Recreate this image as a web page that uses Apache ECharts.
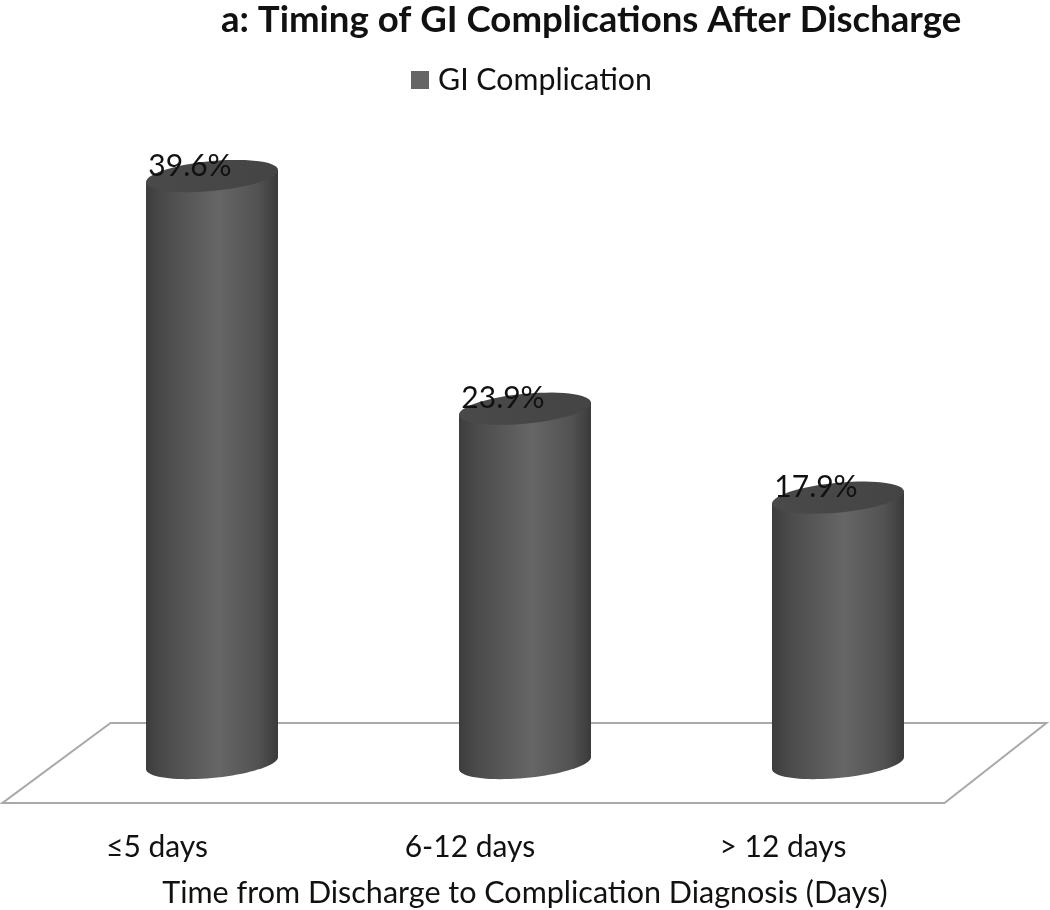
<!DOCTYPE html>
<html>
<head>
<meta charset="utf-8">
<style>html,body{margin:0;padding:0;background:#fff}#c{width:1050px;height:910px}</style>
<script src="https://cdn.jsdelivr.net/npm/echarts@6/dist/echarts.min.js"></script>
</head>
<body>
<div id="c"></div>
<script>
const categories = ['≤5 days', '6-12 days', '> 12 days'];
const complicationPct = [39.6, 23.9, 17.9];
const seriesName = 'GI Complication';
const titleText = 'a: Timing of GI Complications After Discharge';
const axisTitle = 'Time from Discharge to Complication Diagnosis (Days)';

const FONT = 'Lato, "Open Sans", sans-serif';
const chart = echarts.init(document.getElementById('c'), null, {renderer: 'canvas'});

function ellipsePoints(cx, cy, a, b, tilt, from, to, n) {
  const pts = [];
  for (let i = 0; i <= n; i++) {
    const t = from + (to - from) * i / n;
    pts.push([cx + a * Math.cos(t), cy + b * Math.sin(t) - tilt * Math.cos(t)]);
  }
  return pts;
}

function renderCylinder(params, api) {
  const idx = api.value(0);
  const val = api.value(1);
  const top = api.coord([idx, val]);
  const base = api.coord([idx, 0]);
  const a = 66, b = 15, tilt = 6;
  const cx = top[0];
  const body = ellipsePoints(cx, base[1], a, b, tilt, Math.PI, 0, 40)
    .concat([[cx + a, top[1] - tilt], [cx - a, top[1] + tilt]]);
  const cap = ellipsePoints(cx, top[1], a, b, tilt, 0, Math.PI * 2, 60);
  const bodyFill = new echarts.graphic.LinearGradient(0, 0, 1, 0, [
    {offset: 0, color: '#3d3d3d'},
    {offset: 0.14, color: '#4b4b4b'},
    {offset: 0.55, color: '#666666'},
    {offset: 0.85, color: '#525252'},
    {offset: 1, color: '#3a3a3a'}
  ]);
  const capFill = new echarts.graphic.LinearGradient(0, 0, 1, 1, [
    {offset: 0, color: '#4a4a4a'},
    {offset: 1, color: '#444444'}
  ]);
  return {
    type: 'group',
    children: [
      {type: 'polygon', shape: {points: body}, style: {fill: bodyFill}},
      {type: 'polygon', shape: {points: cap}, style: {fill: capFill}},
      {type: 'text', style: {
        text: val.toFixed(1) + '%', x: cx - 22, y: top[1] - 10,
        align: 'center', verticalAlign: 'middle',
        font: '30px ' + FONT, fill: '#111111'
      }}
    ]
  };
}

function renderFloor(params, api) {
  const cs = params.coordSys;
  const base = api.coord([0, 0])[1];
  const left = cs.x, right = cs.x + cs.width;
  return {
    type: 'polygon',
    shape: {points: [
      [left - 53, base + 40], [right - 50, base + 40],
      [right + 52, base - 40], [left + 55, base - 40]
    ]},
    style: {fill: '#ffffff', stroke: '#a9a9a9', lineWidth: 2}
  };
}

chart.setOption({
  animation: false,
  backgroundColor: '#ffffff',
  title: {
    text: titleText, left: 216, top: -3,
    textStyle: {fontFamily: FONT, fontWeight: 'bold', fontSize: 36.6, color: '#111111'}
  },
  legend: {
    data: [{name: seriesName, icon: 'rect'}],
    left: 406, top: 60, itemWidth: 18, itemHeight: 18, itemGap: 10,
    textStyle: {fontFamily: FONT, fontSize: 30.3, color: '#111111', padding: [0, 0, 0, 4]}
  },
  grid: {left: 55.5, width: 939, top: 96, height: 667, outerBoundsMode: 'none'},
  xAxis: {
    type: 'category', data: categories,
    axisLine: {show: false}, axisTick: {show: false},
    axisLabel: {margin: 69, padding: [0, 110, 0, 0], fontFamily: FONT, fontSize: 30, color: '#111111'},
    name: axisTitle, nameLocation: 'middle', nameGap: 115,
    nameTextStyle: {fontFamily: FONT, fontSize: 30.5, color: '#111111'}
  },
  yAxis: {type: 'value', min: 0, max: 45, show: false},
  series: [
    {
      type: 'custom', name: 'floor', silent: true, clip: false, z: 1,
      renderItem: renderFloor, data: [[0, 0]], encode: {x: 0, y: 1}
    },
    {
      type: 'custom', name: seriesName, clip: false, z: 2,
      itemStyle: {color: '#666666'},
      renderItem: renderCylinder,
      encode: {x: 0, y: 1},
      data: complicationPct.map((v, i) => [i, v])
    }
  ]
});
</script>
</body>
</html>
